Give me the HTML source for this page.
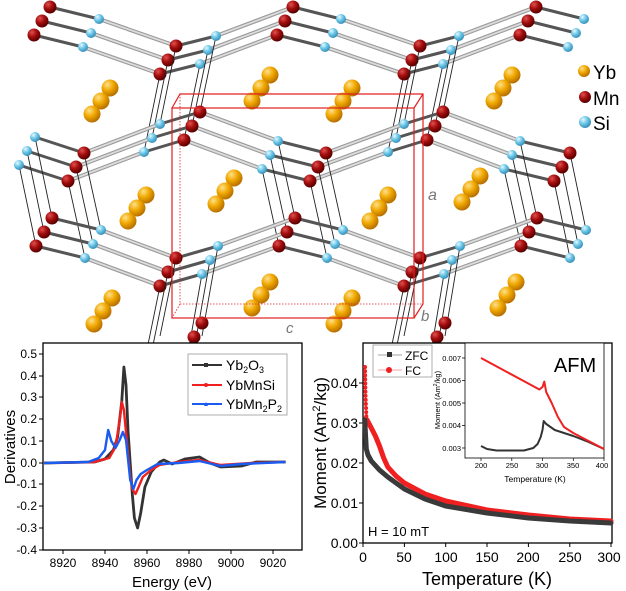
<!DOCTYPE html>
<html><head><meta charset="utf-8"><style>
html,body{margin:0;padding:0;background:#fff}
svg{display:block}
text{font-family:"Liberation Sans",Arial,sans-serif}
</style></head><body>
<svg width="626" height="591" viewBox="0 0 626 591" xmlns="http://www.w3.org/2000/svg">
<defs>
<radialGradient id="gMn" cx="35%" cy="30%" r="70%"><stop offset="0" stop-color="#e05050"/><stop offset="0.5" stop-color="#a30d0d"/><stop offset="1" stop-color="#5a0000"/></radialGradient>
<radialGradient id="gSi" cx="35%" cy="30%" r="70%"><stop offset="0" stop-color="#e8f8ff"/><stop offset="0.5" stop-color="#6cc8e8"/><stop offset="1" stop-color="#3a90b8"/></radialGradient>
<radialGradient id="gYb" cx="35%" cy="30%" r="70%"><stop offset="0" stop-color="#ffe08a"/><stop offset="0.5" stop-color="#f0a800"/><stop offset="1" stop-color="#b87000"/></radialGradient>
<g id="yb"><circle cx="0" cy="0" r="8.5" fill="url(#gYb)"/><circle cx="-9" cy="13" r="8.5" fill="url(#gYb)"/><circle cx="-18" cy="26" r="8.5" fill="url(#gYb)"/></g>
<g id="layer">
 <g stroke="#222" stroke-width="0.9" fill="none">
  <path d="M176 46L160 124M216 36L200 112M420 46L404 124M459 36L443 112M35 137L52 218M84 153L101 230M278 141L295 218M326 153L343 230M520 141L537 218M570 153L586 230M176 258L160 336M218 246L202 336M420 258L404 336M460 246L445 336"/>
 </g>
 <g stroke="#9a9a9a" stroke-width="4" fill="none" stroke-linecap="round">
  <path d="M99 19L176 46M216 36L293 7M341 19L420 46M459 36L536 7M84 153L160 124M200 112L278 141M326 153L404 124M443 112L520 141M101 230L176 258M218 246L295 218M343 230L420 258M460 246L537 218"/>
 </g>
 <g stroke="#dcdcdc" stroke-width="1.8" fill="none" stroke-linecap="round">
  <path d="M99 19L176 46M216 36L293 7M341 19L420 46M459 36L536 7M84 153L160 124M200 112L278 141M326 153L404 124M443 112L520 141M101 230L176 258M218 246L295 218M343 230L420 258M460 246L537 218"/>
 </g>
 <g stroke="#555" stroke-width="3" fill="none" stroke-linecap="round">
  <path d="M50 7L99 19M176 46L216 36M293 7L341 19M420 46L459 36M536 7L584 19M35 137L84 153M160 124L200 112M278 141L326 153M404 124L443 112M520 141L570 153M52 218L101 230M176 258L218 246M295 218L343 230M420 258L460 246M537 218L586 230"/>
 </g>
 <g fill="url(#gMn)">
  <circle cx="50" cy="7" r="6.5"/><circle cx="293" cy="7" r="6.5"/><circle cx="536" cy="7" r="6.5"/><circle cx="176" cy="46" r="6.5"/><circle cx="420" cy="46" r="6.5"/>
  <circle cx="84" cy="153" r="6.5"/><circle cx="200" cy="112" r="6.5"/><circle cx="326" cy="153" r="6.5"/><circle cx="443" cy="112" r="6.5"/><circle cx="570" cy="153" r="6.5"/>
  <circle cx="52" cy="218" r="6.5"/><circle cx="176" cy="258" r="6.5"/><circle cx="295" cy="218" r="6.5"/><circle cx="420" cy="258" r="6.5"/><circle cx="537" cy="218" r="6.5"/>
  <circle cx="202" cy="323" r="6.5"/><circle cx="445" cy="323" r="6.5"/>
 </g>
 <g fill="url(#gSi)">
  <circle cx="99" cy="19" r="5"/><circle cx="341" cy="19" r="5"/><circle cx="584" cy="19" r="5"/><circle cx="216" cy="36" r="5"/><circle cx="459" cy="36" r="5"/>
  <circle cx="35" cy="137" r="5"/><circle cx="160" cy="124" r="5"/><circle cx="278" cy="141" r="5"/><circle cx="404" cy="124" r="5"/><circle cx="520" cy="141" r="5"/>
  <circle cx="101" cy="230" r="5"/><circle cx="218" cy="246" r="5"/><circle cx="343" cy="230" r="5"/><circle cx="460" cy="246" r="5"/><circle cx="586" cy="230" r="5"/>
 </g>
</g>
</defs>
<!-- crystal -->
<use href="#layer" transform="translate(-16,28)"/>
<use href="#layer" transform="translate(-8,14)"/>
<use href="#layer"/>
<use href="#yb" x="110" y="88"/><use href="#yb" x="270" y="75"/><use href="#yb" x="352" y="88"/><use href="#yb" x="512" y="75"/>
<use href="#yb" x="234" y="178"/><use href="#yb" x="146" y="195"/><use href="#yb" x="388" y="195"/><use href="#yb" x="480" y="176"/>
<use href="#yb" x="112" y="298"/><use href="#yb" x="270" y="282"/><use href="#yb" x="352" y="298"/><use href="#yb" x="516" y="282"/>
<g stroke="#e02020" stroke-width="1.2" fill="none">
 <rect x="172" y="108" width="242" height="210"/>
 <path d="M172 108L180 94H423V304L414 318M414 108L423 94"/>
 <path d="M180 94V304H423M180 304L172 318" stroke-dasharray="1.5,1.5" stroke-width="0.8"/>
</g>
<text x="428" y="200" font-size="16" font-style="italic" fill="#777">a</text>
<text x="421" y="321" font-size="15" font-style="italic" fill="#777">b</text>
<text x="286" y="333" font-size="15" font-style="italic" fill="#777">c</text>
<circle cx="584" cy="71" r="6" fill="url(#gYb)"/><text x="593" y="79" font-size="19">Yb</text>
<circle cx="585" cy="97" r="6" fill="url(#gMn)"/><text x="593" y="105" font-size="19">Mn</text>
<circle cx="585" cy="122" r="6" fill="url(#gSi)"/><text x="593" y="130" font-size="19">Si</text>

<!-- left chart -->
<rect x="43" y="343" width="259" height="207" fill="#fff" stroke="#000" stroke-width="1.3"/>
<g stroke="#000" stroke-width="1">
 <path d="M43 354h-4M43 376h-4M43 397h-4M43 419h-4M43 441h-4M43 463h-4M43 484h-4M43 506h-4M43 528h-4M43 550h-4"/>
 <path d="M63 550v4M105 550v4M147 550v4M189 550v4M231 550v4M273 550v4"/>
</g>
<g font-size="12" text-anchor="end">
 <text x="37" y="358">0.5</text><text x="37" y="380">0.4</text><text x="37" y="401">0.3</text><text x="37" y="423">0.2</text><text x="37" y="445">0.1</text><text x="37" y="467">0.0</text><text x="37" y="488">-0.1</text><text x="37" y="510">-0.2</text><text x="37" y="532">-0.3</text><text x="37" y="554">-0.4</text>
</g>
<g font-size="12" text-anchor="middle">
 <text x="63" y="567">8920</text><text x="105" y="567">8940</text><text x="147" y="567">8960</text><text x="189" y="567">8980</text><text x="231" y="567">9000</text><text x="273" y="567">9020</text>
</g>
<text x="172" y="587" font-size="15" text-anchor="middle">Energy (eV)</text>
<text transform="translate(15,447) rotate(-90)" font-size="15" text-anchor="middle">Derivatives</text>
<g fill="none" stroke-linejoin="round">
<path stroke="#333" stroke-width="2.8" d="M44 463L94.5 462L105 459L113.4 450L117.6 437L121.8 401L123.9 367L126 385L128.1 432L130.2 463L132.3 494L134.4 518L137.6 528L140.7 513L144.9 487L151.2 472L159.6 462L163.8 460L172.2 464L184.8 459L199.5 457L210 463L220.5 467L241.5 466L256.2 462L285.6 462"/>
<path stroke="#f02020" stroke-width="2.4" d="M44 463L94.5 462L109.2 458L115.5 447L119.7 420L121.8 402L123.9 410L126 432L128.1 455L130.2 476L132.3 489L135.5 494L138.6 487L142.8 477L151.2 470L159.6 465L178.5 462L199.5 460L220.5 465L252 463L285.6 462"/>
<path stroke="#1a5cf0" stroke-width="2.4" d="M44 463L88.2 462L98.7 458L105 450L108.2 430L111.3 441L115.5 448L119.7 440L122.9 432L126 440L128.1 460L130.2 480L133.4 489L136.5 480L140.7 474L147 470L157.5 464L178.5 463L199.5 461L220.5 466L241.5 464L285.6 462"/>
</g>
<rect x="188" y="354" width="99" height="61" fill="#fff" stroke="#999" stroke-width="0.8"/>
<path d="M192 365h30" stroke="#333" stroke-width="2"/><rect x="204" y="363" width="4" height="4" fill="#333"/>
<path d="M192 385h30" stroke="#f02020" stroke-width="2"/><circle cx="206" cy="385" r="2" fill="#f02020"/>
<path d="M192 404h30" stroke="#1a5cf0" stroke-width="2"/><path d="M204 406l2-4 2 4z" fill="#1a5cf0"/>
<text x="226" y="370" font-size="14">Yb<tspan font-size="9" dy="3">2</tspan><tspan dy="-3">O</tspan><tspan font-size="9" dy="3">3</tspan></text>
<text x="226" y="390" font-size="14">YbMnSi</text>
<text x="226" y="409" font-size="14">YbMn<tspan font-size="9" dy="3">2</tspan><tspan dy="-3">P</tspan><tspan font-size="9" dy="3">2</tspan></text>

<!-- right chart -->
<rect x="363" y="343" width="249" height="200" fill="#fff" stroke="#000" stroke-width="1.3"/>
<g stroke="#000" stroke-width="1">
 <path d="M363 543h-4M363 503h-4M363 463h-4M363 423h-4M363 383h-4"/>
 <path d="M363 543v4M404.4 543v4M445.7 543v4M487 543v4M528.4 543v4M569.8 543v4M611 543v4"/>
</g>
<g font-size="14" text-anchor="end">
 <text x="358" y="548">0.00</text><text x="358" y="508">0.01</text><text x="358" y="468">0.02</text><text x="358" y="428">0.03</text><text x="358" y="388">0.04</text>
</g>
<g font-size="14" text-anchor="middle">
 <text x="363" y="562">0</text><text x="404" y="562">50</text><text x="446" y="562">100</text><text x="487" y="562">150</text><text x="528" y="562">200</text><text x="570" y="562">250</text><text x="609" y="562">300</text>
</g>
<text x="487" y="585" font-size="18" text-anchor="middle">Temperature (K)</text>
<text transform="translate(326,443) rotate(-90)" font-size="17" text-anchor="middle">Moment (Am<tspan font-size="11" dy="-6">2</tspan><tspan dy="6">/kg)</tspan></text>
<g fill="none" stroke-linejoin="round" stroke-linecap="round">
<path stroke="#f02020" stroke-width="5" d="M367.1 420L371.3 428L375.4 436L379.5 446L383.7 458L387.8 467L396 476L404.4 483L425 494L445.7 501L487 510L528.4 515L569.8 519L611 521"/>
<path stroke="#3a3a3a" stroke-width="5" d="M364.7 419L366.3 449L368 455L371.3 461L379.5 470L387.8 477L404.4 489L425 499L445.7 506L487 513L528.4 518L569.8 521L611 523"/>
<path stroke="#f02020" stroke-width="4" stroke-dasharray="0.1,4" d="M365 367L365.5 395L366.5 420"/>
</g>
<rect x="373" y="345" width="59" height="32" fill="#fff" stroke="#999" stroke-width="0.8"/>
<path d="M378 355h24" stroke="#888" stroke-width="0.8"/><rect x="387" y="352" width="5" height="5" fill="#333"/>
<path d="M378 370h24" stroke="#f08080" stroke-width="0.8"/><circle cx="389" cy="370" r="3" fill="#f02020"/>
<text x="405" y="360" font-size="12">ZFC</text><text x="405" y="375" font-size="12">FC</text>
<text x="368" y="536" font-size="13">H = 10 mT</text>
<!-- inset -->
<rect x="465" y="343" width="139" height="115" fill="#fff" stroke="#000" stroke-width="0.8"/>
<g stroke="#000" stroke-width="0.7"><path d="M465 358h-3M465 380.5h-3M465 403h-3M465 425.5h-3M465 448h-3M481 458v3M511.8 458v3M542.5 458v3M573.3 458v3M604 458v3"/></g>
<g font-size="7.5" text-anchor="end"><text x="461" y="361">0.007</text><text x="461" y="383">0.006</text><text x="461" y="406">0.005</text><text x="461" y="428">0.004</text><text x="461" y="451">0.003</text></g>
<g font-size="7.5" text-anchor="middle"><text x="481" y="468">200</text><text x="512" y="468">250</text><text x="542" y="468">300</text><text x="573" y="468">350</text><text x="602" y="468">400</text></g>
<text x="535" y="482" font-size="8.5" text-anchor="middle">Temperature (K)</text>
<text transform="translate(440,400) rotate(-90)" font-size="7.5" text-anchor="middle">Moment (Am<tspan font-size="5" dy="-3">2</tspan><tspan dy="3">/kg)</tspan></text>
<g fill="none" stroke-linejoin="round">
<path stroke="#333" stroke-width="2" d="M481 446L487 449L496.4 450.5L524 450.5L533.3 448L537.6 444L540.7 437L542.5 430L543.7 421L546.2 424L554.8 430L564 433L573.3 436L588.6 442L604 449"/>
<path stroke="#f02020" stroke-width="2" d="M481 358L539.4 389.5L542.5 387L544.3 381.6L546.2 392L551.7 403L557.9 417L564 427L573.3 433L588.6 441L604 449"/>
</g>
<text x="575" y="372" font-size="20" text-anchor="middle">AFM</text>
</svg>
</body></html>
